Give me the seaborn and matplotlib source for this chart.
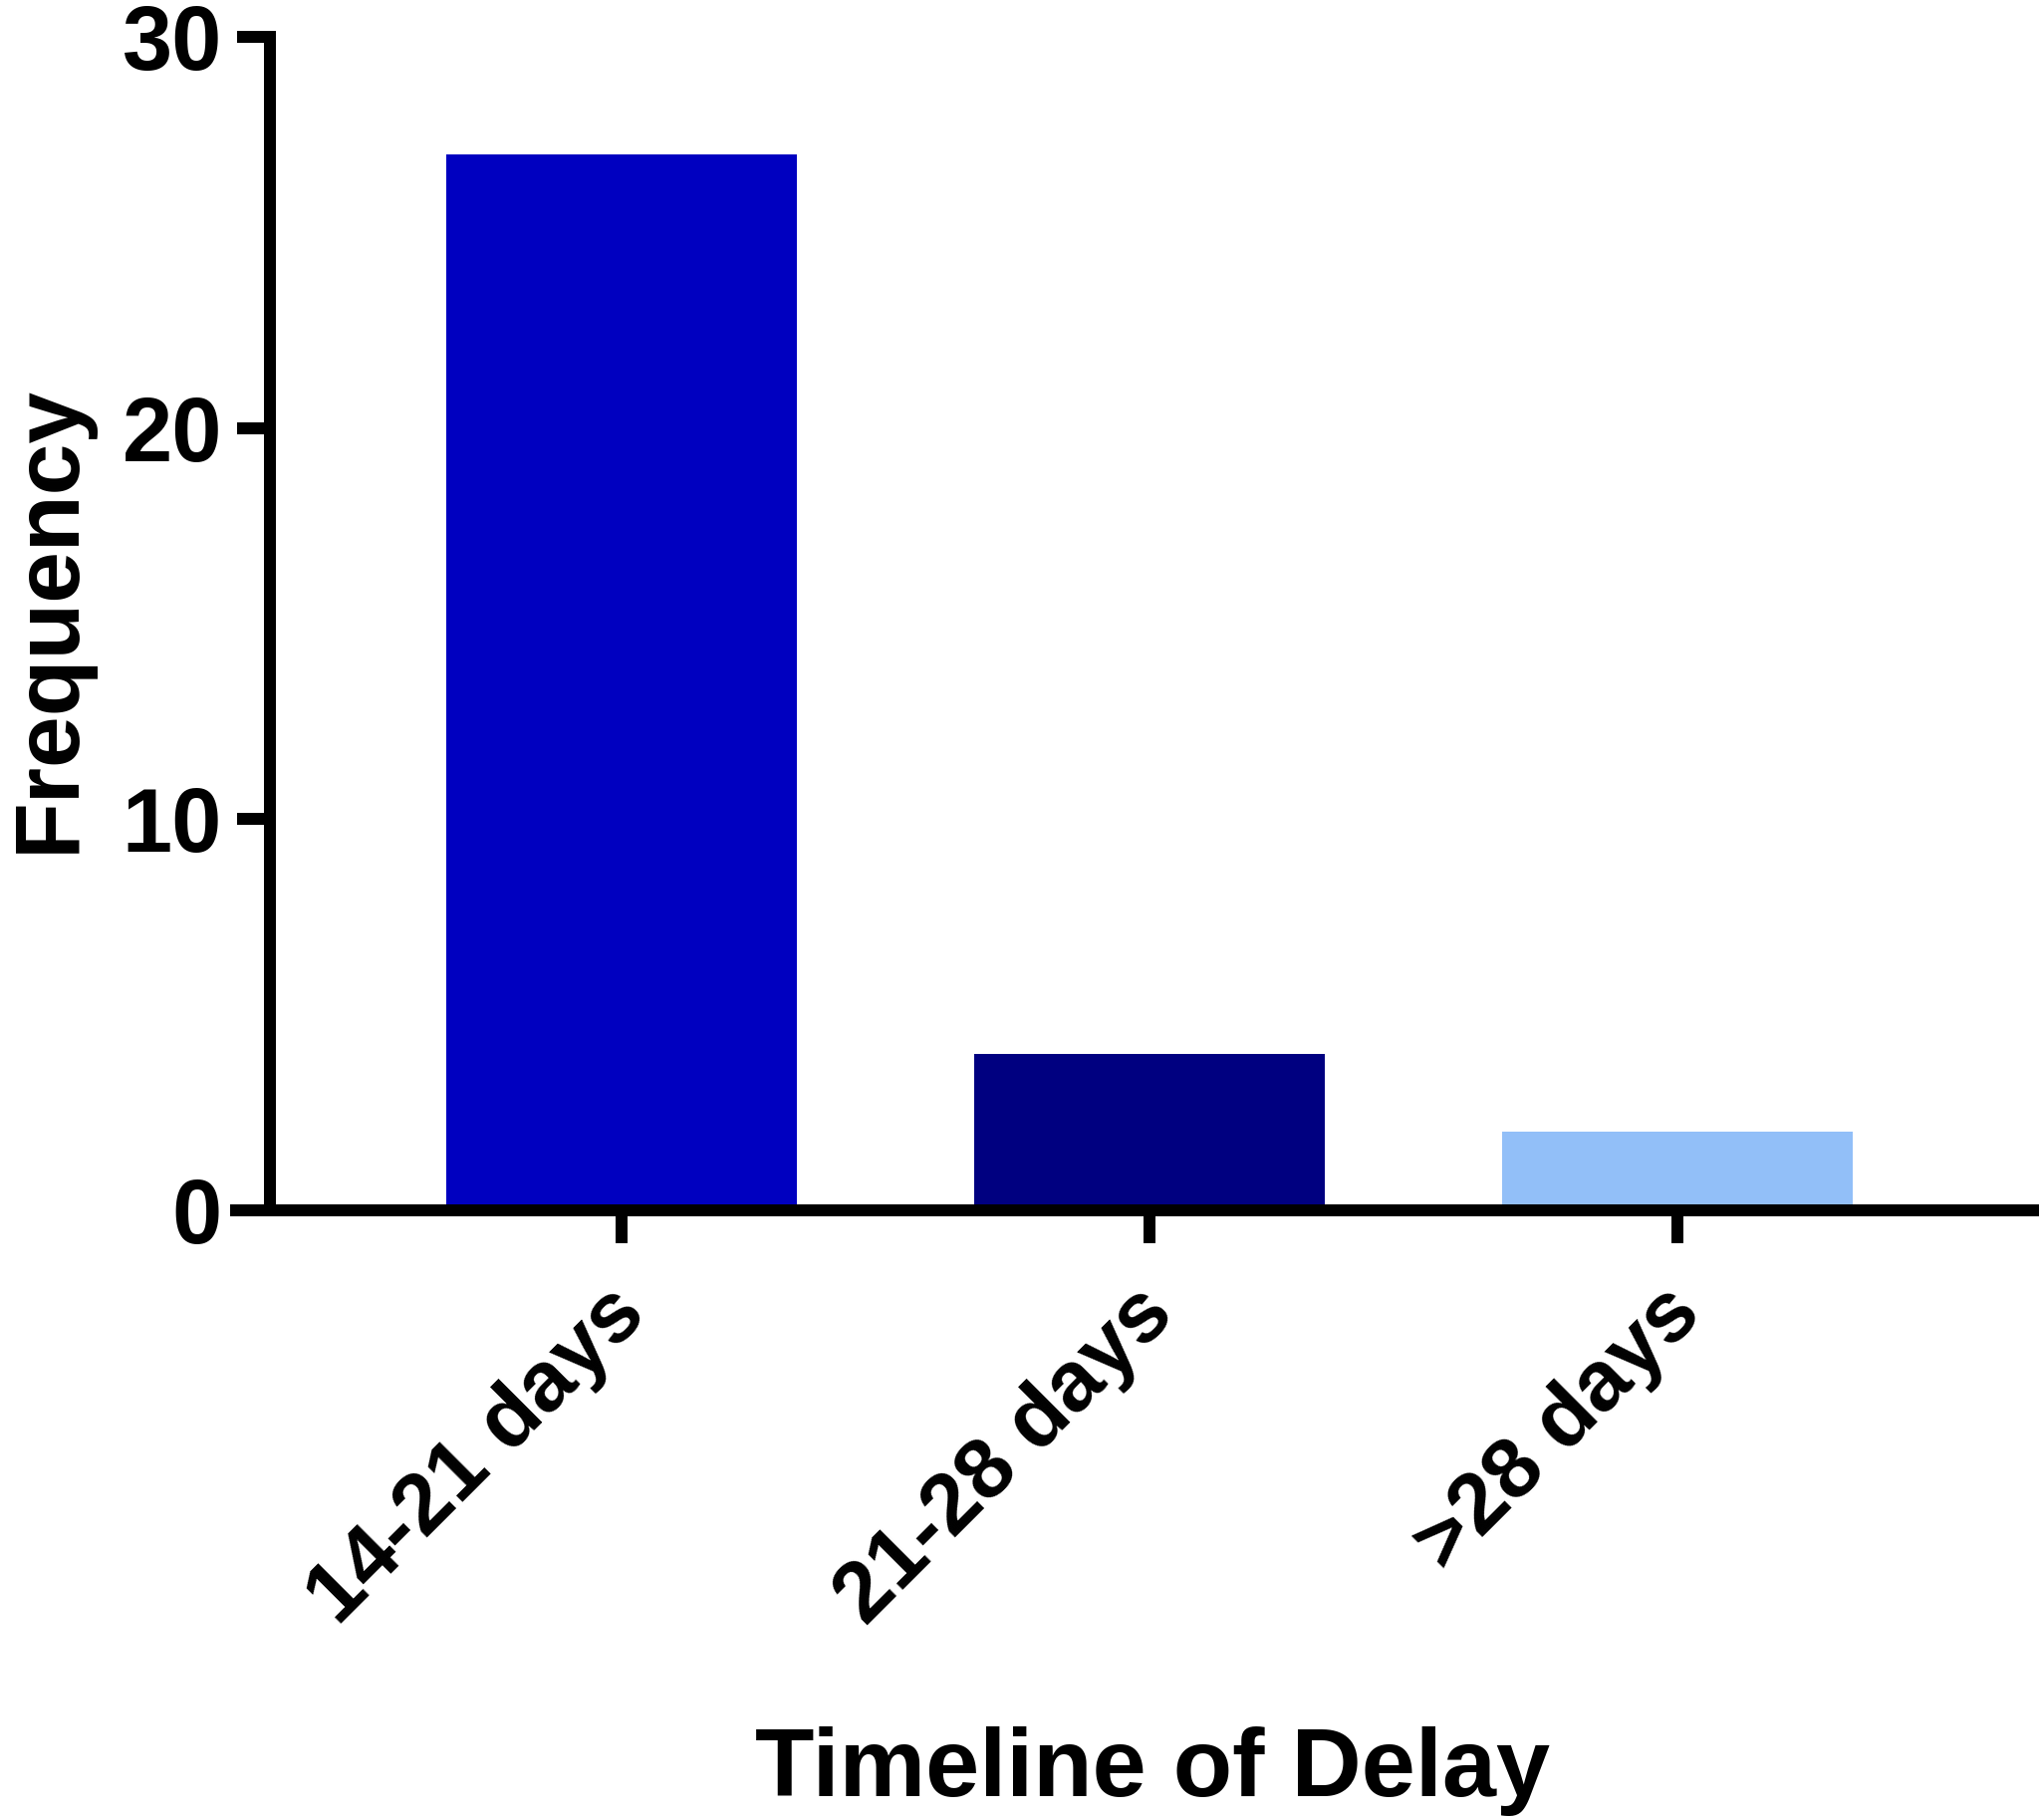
import matplotlib
matplotlib.use('Agg')
import matplotlib.pyplot as plt
import matplotlib.transforms as mtransforms
import seaborn as sns
import pandas as pd

# ---- data ----
categories = ['14-21 days', '21-28 days', '>28 days']
frequency = [27, 4, 2]
bar_colors = ['#0000C0', '#000080', '#92BFF8']
y_ticks = [0, 10, 20, 30]
x_title = 'Timeline of Delay'
y_title = 'Frequency'

sns.set_style('white')
plt.rcParams['font.family'] = ['Liberation Sans', 'DejaVu Sans']
plt.rcParams['font.weight'] = 'bold'
plt.rcParams['text.color'] = 'black'
plt.rcParams['axes.labelcolor'] = 'black'
plt.rcParams['xtick.color'] = 'black'
plt.rcParams['ytick.color'] = 'black'
plt.rcParams['xtick.labelcolor'] = 'black'
plt.rcParams['ytick.labelcolor'] = 'black'

DPI = 100
W, H = 2047, 1827
PT = 72.0 / DPI  # points per pixel

fig = plt.figure(figsize=(W / DPI, H / DPI), dpi=DPI)
fig.patch.set_facecolor('white')
ax = fig.add_axes([237 / W, 1 - 1215 / H, 1806 / W, 1178 / H])
ax.set_facecolor('white')

df = pd.DataFrame({'cat': categories, 'freq': frequency})
sns.barplot(data=df, x='cat', y='freq', hue='cat', palette=bar_colors,
            legend=False, width=0.664, saturation=1, linewidth=0, ax=ax)

ax.set_xlim(-0.730, 2.677)
ax.set_ylim(0, 30)

lw = 12 * PT
for s in ['top', 'right']:
    ax.spines[s].set_visible(False)
for s in ['left', 'bottom']:
    ax.spines[s].set_linewidth(lw)
    ax.spines[s].set_color('black')
ax.spines['left'].set_position(('data', -0.666))
ax.spines['left'].set_bounds(0, 30)

ax.set_yticks(y_ticks)
ax.set_xticks(range(len(categories)), labels=categories, rotation=45,
              ha='right', va='center', rotation_mode='anchor',
              fontsize=62, fontweight='bold', color='black')
ax.tick_params(axis='both', direction='out', length=33 * PT, width=lw,
               color='black', bottom=True, left=True)
ax.tick_params(axis='y', labelsize=65, pad=15 * PT)
ax.tick_params(axis='x', pad=58 * PT)
for lab in ax.get_yticklabels():
    lab.set_fontweight('bold')

# small horizontal nudge of rotated category labels
offset = mtransforms.ScaledTranslation(11 / DPI, 0, fig.dpi_scale_trans)
for tick in ax.xaxis.get_major_ticks():
    tick.label1.set_transform(tick.label1.get_transform() + offset)

ax.set_xlabel(x_title, fontsize=70, fontweight='bold', color='black')
ax.xaxis.set_label_coords(0.5094, -0.4992)
ax.xaxis.label.set_va('baseline')

ax.set_ylabel(y_title, fontsize=67, fontweight='bold', color='black')
ax.yaxis.set_label_coords(-0.0903, 0.5042)
ax.yaxis.label.set_va('baseline')

fig.savefig('out.png', dpi=DPI, facecolor='white')
